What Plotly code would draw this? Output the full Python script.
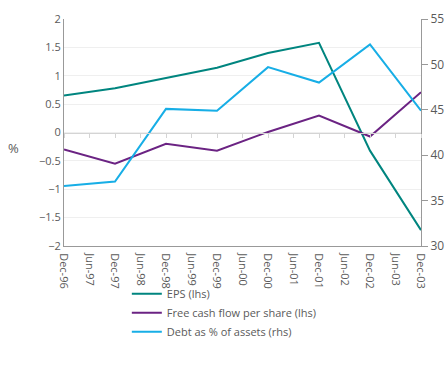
import plotly.graph_objects as go

categories = ["Dec-96", "Jun-97", "Dec-97", "Jun-98", "Dec-98", "Jun-99", "Dec-99",
              "Jun-00", "Dec-00", "Jun-01", "Dec-01", "Jun-02", "Dec-02", "Jun-03", "Dec-03"]
points = ["Dec-96", "Dec-97", "Dec-98", "Dec-99", "Dec-00", "Dec-01", "Dec-02", "Dec-03"]
eps = [0.65, 0.78, 0.96, 1.14, 1.40, 1.58, -0.32, -1.72]
fcf = [-0.30, -0.55, -0.20, -0.32, 0.01, 0.30, -0.07, 0.71]
debt = [36.6, 37.1, 45.1, 44.9, 49.7, 48.0, 52.2, 44.9]

FONT = "Open Sans"
GREY = "#5a5a5a"

fig = go.Figure()
fig.add_trace(go.Scatter(x=points, y=eps, mode="lines", name="EPS (lhs)",
                         line=dict(color="#00857f", width=2)))
fig.add_trace(go.Scatter(x=points, y=fcf, mode="lines", name="Free cash flow per share (lhs)",
                         line=dict(color="#6b2383", width=2)))
fig.add_trace(go.Scatter(x=points, y=debt, mode="lines", name="Debt as % of assets (rhs)",
                         line=dict(color="#17aee6", width=2), yaxis="y2"))

fig.update_layout(
    width=445, height=368,
    margin=dict(l=64, r=24, t=19, b=122, autoexpand=False),
    paper_bgcolor="white", plot_bgcolor="white",
    font=dict(family=FONT, size=11, color=GREY),
    showlegend=True,
    legend=dict(xref="container", yref="container", x=0.285, y=0.241,
                xanchor="left", yanchor="top", font=dict(size=11, color=GREY),
                bgcolor="rgba(0,0,0,0)", tracegroupgap=0),
    xaxis=dict(type="category", categoryorder="array", categoryarray=categories,
               tickmode="array", tickvals=categories, ticktext=categories,
               range=[0, len(categories) - 1], tickangle=90, domain=[0, 1],
               automargin=False, ticklabelstandoff=4,
               showline=True, linecolor="#999999", linewidth=1,
               showgrid=False, ticks="", tickfont=dict(size=11, color=GREY)),
    xaxis2=dict(type="category", categoryorder="array", categoryarray=categories,
                tickmode="array", tickvals=categories, domain=[0, 1],
                range=[0, len(categories) - 1], overlaying="x", anchor="free",
                position=0.5, showline=True, linecolor="#d4d4d4", linewidth=1,
                ticks="outside", ticklen=4, tickcolor="#d4d4d4", automargin=False,
                showticklabels=False, showgrid=False),
    yaxis=dict(range=[-2, 2], dtick=0.5, tick0=0, showgrid=True, gridcolor="#efefef",
               zeroline=False, showline=True, linecolor="#999999", linewidth=1,
               automargin=False, domain=[0, 1],
               ticks="", tickfont=dict(size=11, color=GREY)),
    yaxis2=dict(range=[30, 55], dtick=5, overlaying="y", side="right", showgrid=False,
                anchor="x", automargin=False,
                zeroline=False, showline=True, linecolor="#999999", linewidth=1,
                ticks="outside", ticklen=6, tickcolor="#999999",
                tickfont=dict(size=12, color=GREY)),
)
# invisible trace on xaxis2 so the axis is rendered
fig.add_trace(go.Scatter(x=categories, y=[0] * len(categories), xaxis="x2",
                         mode="lines", line=dict(width=0), hoverinfo="skip",
                         showlegend=False, opacity=0))

fig.add_annotation(text="%", xref="paper", yref="paper", x=(13 - 64) / 357,
                   y=(246 - 148) / 227, showarrow=False, xanchor="center",
                   yanchor="middle", font=dict(size=13, color=GREY))

fig.write_html("out.html")
